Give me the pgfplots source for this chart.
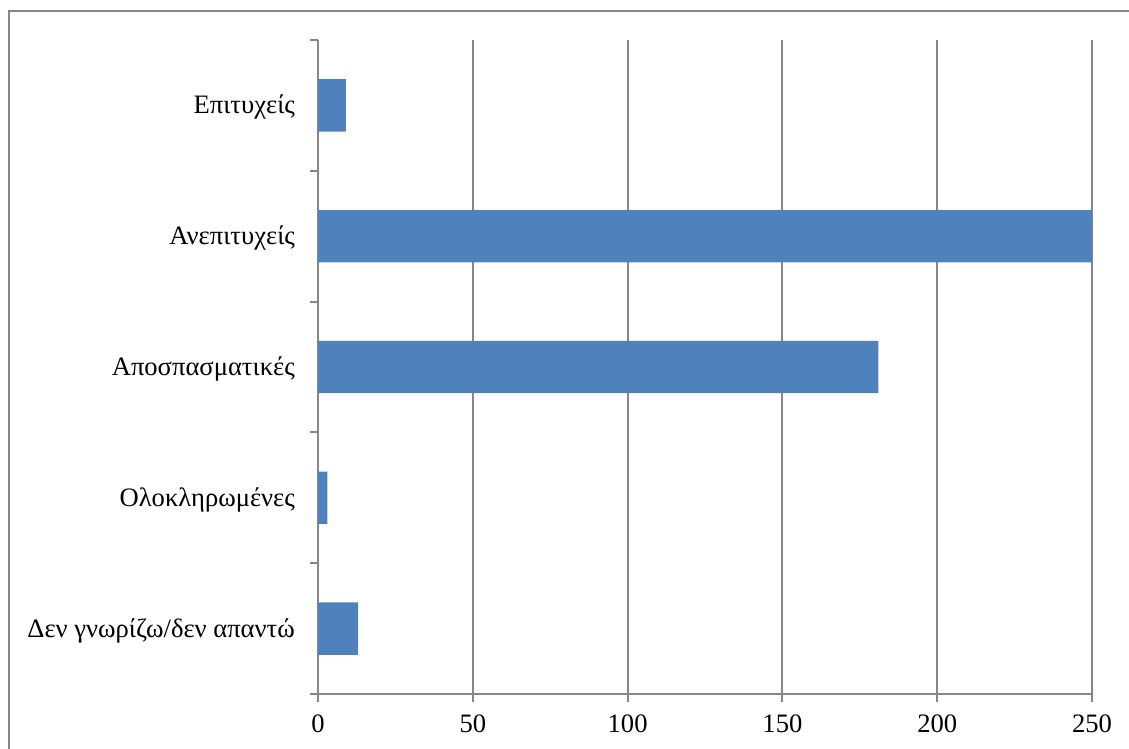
\documentclass[border=0pt]{standalone}
\usepackage{fontspec}
\setmainfont{Liberation Serif}
\usepackage{pgfplots}
\pgfplotsset{compat=1.18}
\definecolor{barblue}{HTML}{4F81BD}
\definecolor{linegray}{HTML}{878787}
\begin{document}
\begin{tikzpicture}[x=1pt,y=1pt]
\useasboundingbox (0,0) rectangle (564.5,374.5);
% outer chart frame
\draw[linegray, line width=1pt] (4.5,-2) -- (4.5,369) -- (566,369);
\begin{axis}[
  at={(159pt,27.5pt)}, anchor=south west,
  width=387pt, height=327pt, scale only axis,
  xmin=0, xmax=250, ymin=-0.5, ymax=4.5,
  axis x line*=bottom, axis y line*=left,
  axis line style={linegray, line width=1pt},
  xtick={0,50,...,250},
  xmajorgrids, grid style={linegray, line width=1pt},
  tick align=outside, major tick length=4pt,
  tick style={linegray, line width=1pt},
  ytick={-0.5,0.5,1.5,2.5,3.5,4.5}, yticklabels={},
  extra y ticks={0,1,2,3,4},
  extra y tick labels={Δεν γνωρίζω/δεν απαντώ, Ολοκληρωμένες, Αποσπασματικές, Ανεπιτυχείς, Επιτυχείς},
  extra y tick style={major tick length=0pt, yticklabel style={xshift=-8pt, yshift=-1pt}},
  xticklabel style={yshift=-3pt},
  tick label style={font=\fontsize{13.3}{15}\selectfont, text=black},
  /pgf/number format/assume math mode=true,
  clip=false,
]
\addplot[xbar, fill=barblue, draw=none, bar width=0.4]
  coordinates {(13,0) (3,1) (181,2) (250,3) (9,4)};
\end{axis}
\end{tikzpicture}
\end{document}
